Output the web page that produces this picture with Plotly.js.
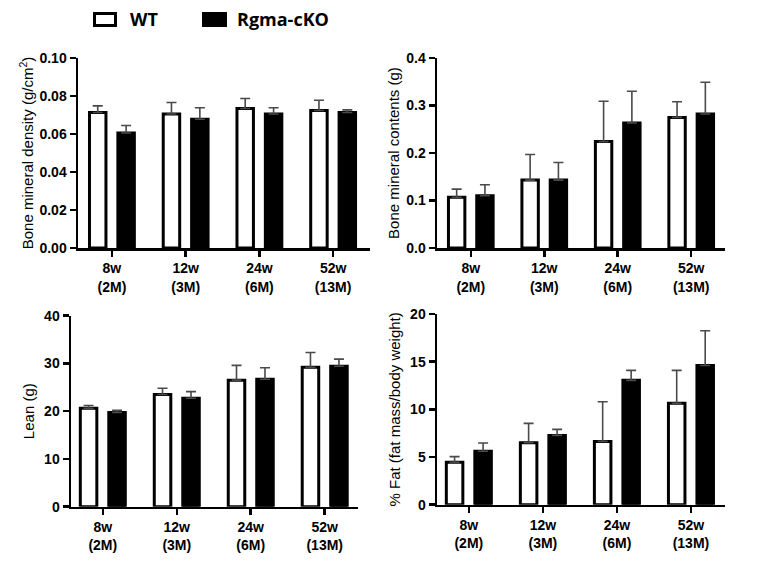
<!DOCTYPE html>
<html>
<head>
<meta charset="utf-8">
<script src="https://cdn.plot.ly/plotly-3.0.1.min.js"></script>
<style>html,body{margin:0;padding:0;background:#fff;}#chart{width:770px;height:575px;}</style>
</head>
<body>
<div id="chart"></div>
<script>
// ---- data ----
const categories = ["8w<br>(2M)", "12w<br>(3M)", "24w<br>(6M)", "52w<br>(13M)"];
const seriesNames = ["WT", "Rgma-cKO"];

const bmdWT = [0.0713, 0.0705, 0.0734, 0.0724];
const bmdWTsd = [0.0035, 0.0061, 0.0053, 0.0054];
const bmdKO = [0.0605, 0.0678, 0.0705, 0.0713];
const bmdKOsd = [0.0040, 0.0060, 0.0033, 0.0014];

const bmcWT = [0.107, 0.143, 0.224, 0.275];
const bmcWTsd = [0.017, 0.054, 0.085, 0.033];
const bmcKO = [0.110, 0.143, 0.263, 0.282];
const bmcKOsd = [0.023, 0.037, 0.067, 0.067];

const leanWT = [20.6, 23.5, 26.5, 29.2];
const leanWTsd = [0.6, 1.3, 3.1, 3.1];
const leanKO = [19.75, 22.7, 26.7, 29.4];
const leanKOsd = [0.45, 1.4, 2.4, 1.5];

const fatWT = [4.44, 6.5, 6.64, 10.63];
const fatWTsd = [0.6, 2.03, 4.16, 3.46];
const fatKO = [5.6, 7.27, 13.04, 14.6];
const fatKOsd = [0.87, 0.63, 1.05, 3.65];

const yTitles = ["Bone mineral density (g/cm<sup>2</sup>)", "Bone mineral contents (g)", "Lean (g)", "% Fat (fat mass/body weight)"];

// ---- build ----
const FONT = "Liberation Sans, Arial, sans-serif";
const zeros = [0, 0, 0, 0];
function pair(wt, wtsd, ko, kosd, xa, ya) {
  const eb = (arr) => ({type: 'data', symmetric: false, array: arr, arrayminus: zeros,
                        color: '#4a4a4a', thickness: 1.6, width: 5});
  return [
    {type: 'bar', name: seriesNames[0], x: categories, y: wt, error_y: eb(wtsd),
     xaxis: xa, yaxis: ya, showlegend: false,
     marker: {color: '#ffffff', line: {color: '#000000', width: 3}}},
    {type: 'bar', name: seriesNames[1], x: categories, y: ko, error_y: eb(kosd),
     xaxis: xa, yaxis: ya, showlegend: false,
     marker: {color: '#000000', line: {color: '#000000', width: 3}}}
  ];
}
const data = [].concat(
  pair(bmdWT, bmdWTsd, bmdKO, bmdKOsd, 'x', 'y'),
  pair(bmcWT, bmcWTsd, bmcKO, bmcKOsd, 'x2', 'y2'),
  pair(leanWT, leanWTsd, leanKO, leanKOsd, 'x3', 'y3'),
  pair(fatWT, fatWTsd, fatKO, fatKOsd, 'x4', 'y4')
);

function xax(domain, range, anchor) {
  return {domain: domain, range: range, anchor: anchor, type: 'category',
          showline: true, linecolor: '#000', linewidth: 2.5, ticks: 'outside',
          ticklen: 6, tickwidth: 2.5, tickcolor: '#000', showgrid: false, zeroline: false,
          tickfont: {family: FONT, size: 14, color: '#000', weight: 'bold'}, fixedrange: true};
}
function yax(domain, range, dtick, fmt, title, anchor, standoff) {
  return {domain: domain, range: range, anchor: anchor, dtick: dtick, tick0: 0, tickformat: fmt,
          showline: true, linecolor: '#000', linewidth: 2.5, ticks: 'outside',
          ticklen: 6, tickwidth: 2.5, tickcolor: '#000', showgrid: false, zeroline: false,
          tickfont: {family: FONT, size: 14, color: '#000', weight: 'bold'},
          title: {text: title, font: {family: FONT, size: 15, color: '#000'}, standoff: standoff},
          fixedrange: true};
}
function px(x) { return x / 770; }
function py(y) { return 1 - y / 575; }

const layout = {
  width: 770, height: 575,
  margin: {l: 0, r: 0, t: 0, b: 0},
  paper_bgcolor: '#fff', plot_bgcolor: '#fff',
  barmode: 'group', bargap: 0.23, bargroupgap: 0.42,
  showlegend: false,
  xaxis: xax([px(78), px(370)], [-0.46, 3.5], 'y'),
  yaxis: yax([py(248), py(58)], [0, 0.1], 0.02, '.2f', yTitles[0], 'x', 2),
  xaxis2: xax([px(437), px(725)], [-0.46, 3.46], 'y2'),
  yaxis2: yax([py(248), py(58)], [0, 0.4], 0.1, '.1f', yTitles[1], 'x2', 3),
  xaxis3: xax([px(71), px(358)], [-0.43, 3.45], 'y3'),
  yaxis3: yax([py(506.7), py(315.7)], [0, 40], 10, 'd', yTitles[2], 'x3', 6),
  xaxis4: xax([px(437), px(725)], [-0.43, 3.46], 'y4'),
  yaxis4: yax([py(504.7), py(314)], [0, 20], 5, 'd', yTitles[3], 'x4', 6),
  shapes: [
    {type: 'rect', xref: 'paper', yref: 'paper', x0: px(94.5), x1: px(115.5), y0: py(25.5), y1: py(13.5),
     fillcolor: '#fff', line: {color: '#000', width: 3}},
    {type: 'rect', xref: 'paper', yref: 'paper', x0: px(202), x1: px(227), y0: py(27), y1: py(12),
     fillcolor: '#000', line: {color: '#000', width: 0}}
  ],
  annotations: [
    {xref: 'paper', yref: 'paper', x: px(128), y: py(19.5), xanchor: 'left', yanchor: 'middle',
     text: seriesNames[0], showarrow: false, font: {family: 'Open Sans, sans-serif', size: 18, color: '#000', weight: 'bold'}},
    {xref: 'paper', yref: 'paper', x: px(235), y: py(19.5), xanchor: 'left', yanchor: 'middle',
     text: seriesNames[1], showarrow: false, font: {family: 'Open Sans, sans-serif', size: 18, color: '#000', weight: 'bold'}}
  ]
};

Plotly.newPlot('chart', data, layout, {staticPlot: true, displayModeBar: false});
</script>
</body>
</html>
